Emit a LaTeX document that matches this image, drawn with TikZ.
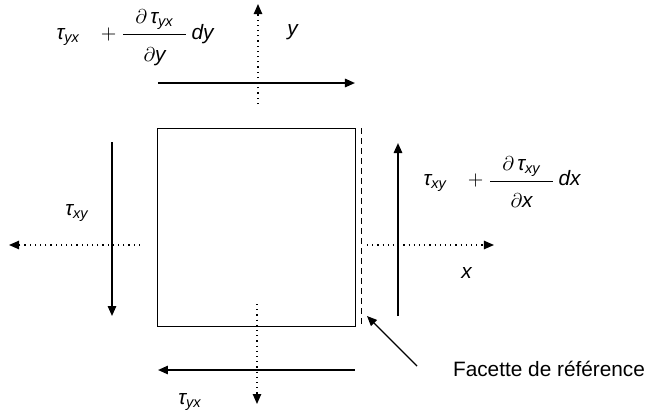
\documentclass[tikz,border=0pt]{standalone}
\usepackage{amsmath}
\usepackage{fontspec}
\setmainfont{Liberation Sans}
\usetikzlibrary{arrows.meta,positioning}

\newcommand{\vv}[1]{\textit{#1}}
\newcommand{\tauidx}[1]{\vv{τ}_{\vv{#1}}}
\newcommand{\pfrac}[2]{\dfrac{\hspace{6pt}#1\rule[-4pt]{0pt}{0pt}\hspace{6pt}}{#2\rule{0pt}{12pt}}}

\begin{document}
\begin{tikzpicture}[
    x=0.5pt,
    y=-0.5pt,
    >={Triangle[length=5pt,width=4.2pt]},
    every node/.style={font=\fontsize{10.4}{12.5}\selectfont},
    force/.style={->,line width=0.9pt},
    axis/.style={->,line width=0.6pt,dotted},
    facet/.style={line width=0.5pt,dash pattern=on 3pt off 2pt}
]

\useasboundingbox (0,0) rectangle (650,414);

% ---------------------------------------------------------
% Element
% ---------------------------------------------------------

\draw[line width=0.5pt] (158,128) rectangle (356,326);

\coordinate (facetTop) at (362,128);
\coordinate (facetBot) at (362,327);
\draw[facet] (facetTop) -- (facetBot);

% ---------------------------------------------------------
% Top face
% ---------------------------------------------------------

\coordinate (topFrom) at (158,83);
\coordinate (topTo)   at (355,83);
\draw[force] (topFrom) -- (topTo);

\coordinate (yFrom) at (258,104);
\coordinate (yTo)   at (258,4);
\draw[axis] (yFrom) -- (yTo);

\node (ylabel) at (293,32) {\vv{y}};

\node (topstress) at (135,38)
    {\(\tauidx{yx}\;\;\; + \pfrac{\partial\,\tauidx{yx}}{\partial\vv{y}}\,\vv{dy}\)};

% ---------------------------------------------------------
% Right face
% ---------------------------------------------------------

\coordinate (rightFrom) at (398,316);
\coordinate (rightTo)   at (398,143);
\draw[force] (rightFrom) -- (rightTo);

\coordinate (xFrom) at (367,245);
\coordinate (xTo)   at (494,245);
\draw[axis] (xFrom) -- (xTo);

\node (xlabel) at (467,273) {\vv{x}};

\node (rightstress) at (502,182)
    {\(\tauidx{xy}\;\;\; + \pfrac{\partial\,\tauidx{xy}}{\partial\vv{x}}\,\vv{dx}\)};

% ---------------------------------------------------------
% Left face
% ---------------------------------------------------------

\coordinate (leftFrom) at (112,142);
\coordinate (leftTo)   at (112,316);
\draw[force] (leftFrom) -- (leftTo);

\coordinate (mxFrom) at (140,245);
\coordinate (mxTo)   at (9,245);
\draw[axis] (mxFrom) -- (mxTo);

\node (leftstress) at (77,213) {\(\tauidx{xy}\)};

% ---------------------------------------------------------
% Bottom face
% ---------------------------------------------------------

\coordinate (botFrom) at (355,370);
\coordinate (botTo)   at (158,370);
\draw[force] (botFrom) -- (botTo);

\coordinate (myFrom) at (257,304);
\coordinate (myTo)   at (257,404);
\draw[axis] (myFrom) -- (myTo);

\node (botstress) at (190,402) {\(\tauidx{yx}\)};

% ---------------------------------------------------------
% Reference facet
% ---------------------------------------------------------

\node[anchor=west] (facette) at (446,369) {Facette de référence};

\coordinate (facetTip) at (367,316);
\draw[->,line width=0.7pt] (417,366) -- (facetTip);

\end{tikzpicture}
\end{document}
